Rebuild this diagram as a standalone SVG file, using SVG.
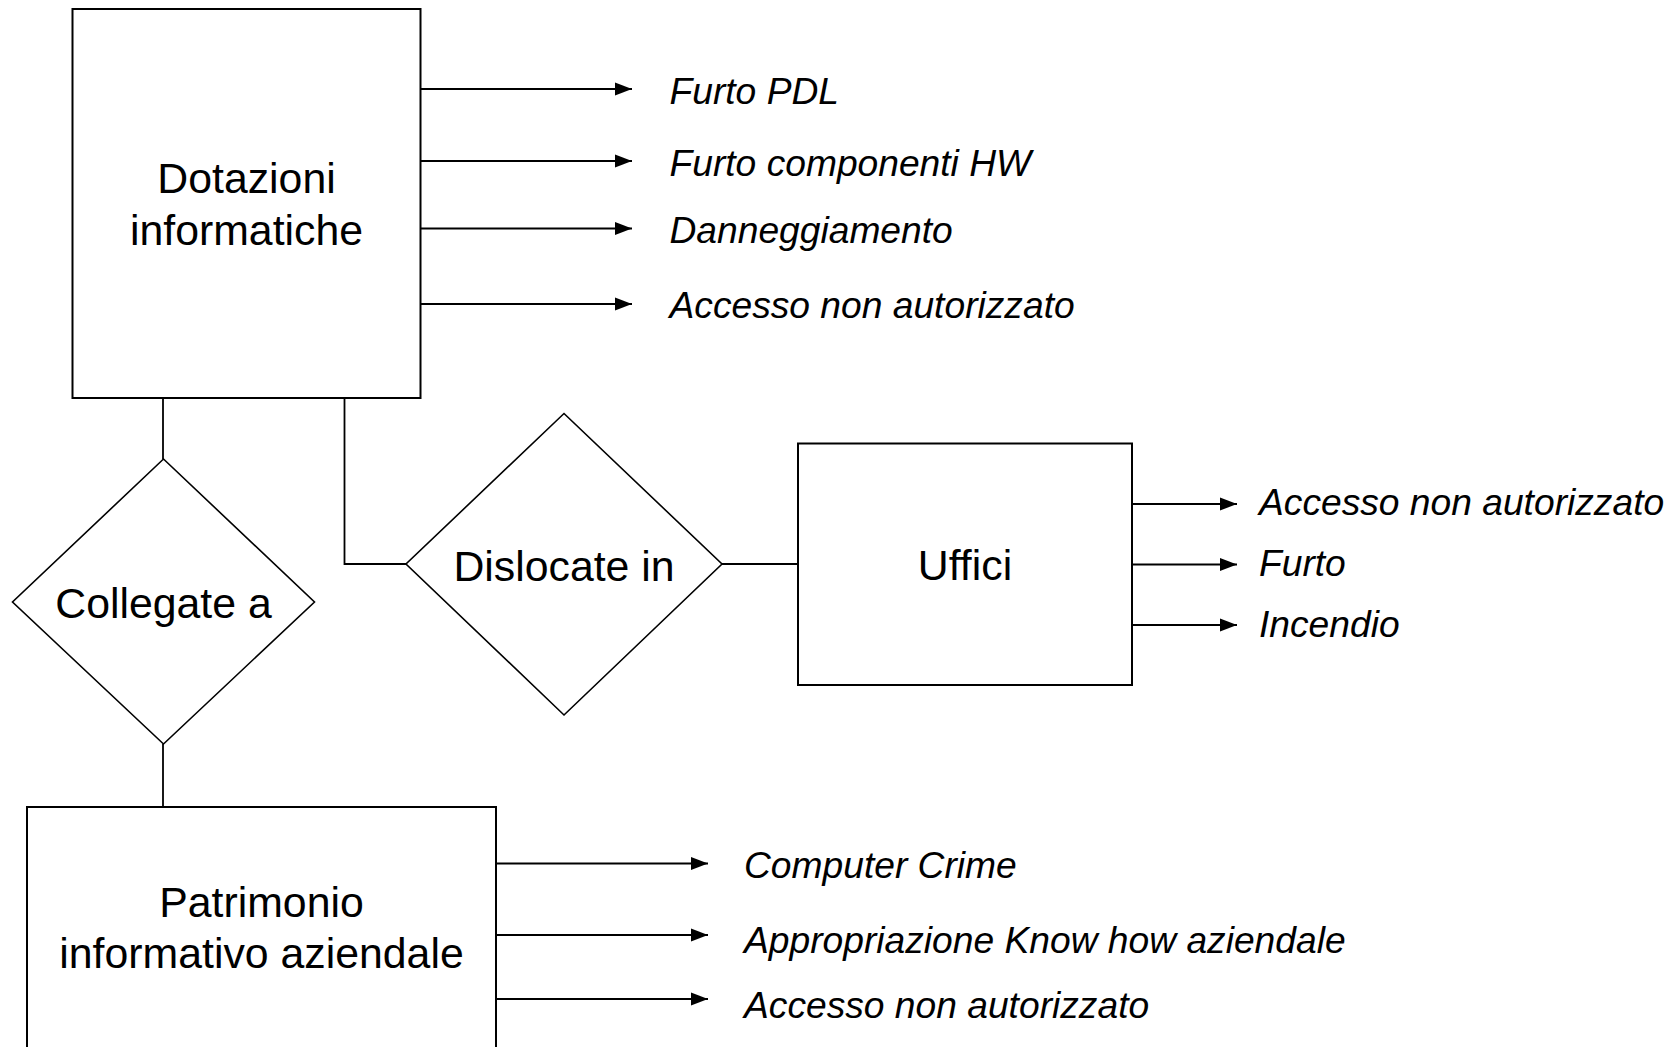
<svg xmlns="http://www.w3.org/2000/svg" width="1677" height="1047" viewBox="0 0 1677 1047">
<style>
.box{fill:#fff;stroke:#000;stroke-width:2}
.dia{fill:#fff;stroke:#000;stroke-width:1.6}
.ln{fill:none;stroke:#000;stroke-width:1.8}
.ar{fill:none;stroke:#000;stroke-width:2;marker-end:url(#ah)}
.nt{font-family:"Liberation Sans",Arial,sans-serif;font-size:42.8px;text-anchor:middle;fill:#000}
.lb{font-family:"Liberation Sans",Arial,sans-serif;font-size:37.2px;font-style:italic;fill:#000}
</style>
<defs>
<marker id="ah" markerWidth="17" markerHeight="14" refX="17" refY="7" orient="auto" markerUnits="userSpaceOnUse">
<path d="M0,0.5 L17,7 L0,13.5 Z" fill="#000"/>
</marker>
</defs>
<rect width="1677" height="1047" fill="#fff"/>
<g id="connectors">
<path class="ln" d="M163,398 V459"/>
<path class="ln" d="M163,744 V807"/>
<path class="ln" d="M344.5,398 V564 H406"/>
<path class="ln" d="M722,564 H798"/>
<path class="ar" d="M421,89 H632"/>
<path class="ar" d="M421,161 H632"/>
<path class="ar" d="M421,228.5 H632"/>
<path class="ar" d="M421,304 H632"/>
<path class="ar" d="M1132,504 H1237"/>
<path class="ar" d="M1132,564.5 H1237"/>
<path class="ar" d="M1132,625 H1237"/>
<path class="ar" d="M496,863.5 H708"/>
<path class="ar" d="M496,935 H708"/>
<path class="ar" d="M496,999 H708"/>
</g>
<g id="dotazioni">
<rect class="box" x="72.5" y="9" width="348" height="389"/>
<text class="nt" x="246.5" y="193">Dotazioni</text>
<text class="nt" x="246.5" y="245">informatiche</text>
</g>
<g id="collegate">
<polygon class="dia" points="163.5,459 314.5,602 163.5,744 12.5,602"/>
<text class="nt" x="163.5" y="618">Collegate a</text>
</g>
<g id="dislocate">
<polygon class="dia" points="564,413.5 722,564 564,715 406,564"/>
<text class="nt" x="564" y="580.5">Dislocate in</text>
</g>
<g id="uffici">
<rect class="box" x="798" y="443.5" width="334" height="241.5"/>
<text class="nt" x="965" y="580">Uffici</text>
</g>
<g id="patrimonio">
<rect class="box" x="27" y="807" width="469" height="260"/>
<text class="nt" x="261.5" y="917">Patrimonio</text>
<text class="nt" x="261.5" y="968">informativo aziendale</text>
</g>
<g id="labels">
<text class="lb" x="669.5" y="104">Furto PDL</text>
<text class="lb" x="669.5" y="176">Furto componenti HW</text>
<text class="lb" x="669.5" y="243">Danneggiamento</text>
<text class="lb" x="669.5" y="318.3">Accesso non autorizzato</text>
<text class="lb" x="1259" y="515">Accesso non autorizzato</text>
<text class="lb" x="1259" y="576">Furto</text>
<text class="lb" x="1259" y="637">Incendio</text>
<text class="lb" x="744" y="878.3">Computer Crime</text>
<text class="lb" x="744" y="953.3">Appropriazione Know how aziendale</text>
<text class="lb" x="744" y="1017.7">Accesso non autorizzato</text>
</g>
</svg>
